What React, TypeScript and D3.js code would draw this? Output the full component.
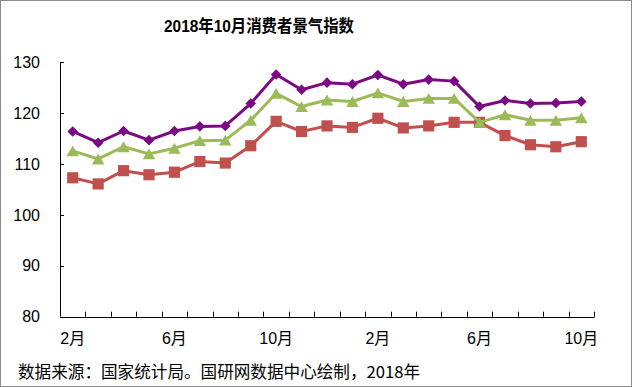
import React from "react";
import * as d3 from "d3";

const months = ["2月","3月","4月","5月","6月","7月","8月","9月","10月","11月","12月","1月","2月","3月","4月","5月","6月","7月","8月","9月","10月"];
const shownLabels = [0, 4, 8, 12, 16, 20];
const expectation = [116.4,114.2,116.5,114.7,116.5,117.4,117.5,121.9,127.6,124.6,126.0,125.7,127.5,125.7,126.6,126.3,121.3,122.5,121.9,122.0,122.3];
const confidence = [112.6,111.0,113.4,112.0,113.1,114.6,114.7,118.6,123.9,121.3,122.6,122.3,124.0,122.3,122.9,122.9,118.2,119.7,118.6,118.6,119.1];
const satisfaction = [107.3,106.1,108.7,107.9,108.4,110.5,110.2,113.6,118.4,116.4,117.5,117.2,119.0,117.1,117.5,118.2,118.2,115.6,113.8,113.4,114.4];
const yTicks = [80, 90, 100, 110, 120, 130];

const FONT = "'Liberation Sans', Arial, 'Noto Sans CJK SC', sans-serif";

const squareDiamond = {
  draw(ctx: any, size: number) {
    const r = Math.sqrt(size / 2);
    ctx.moveTo(0, -r);
    ctx.lineTo(r, 0);
    ctx.lineTo(0, r);
    ctx.lineTo(-r, 0);
    ctx.closePath();
  },
};
const boxTriangle = {
  draw(ctx: any, size: number) {
    const s = Math.sqrt((size * 4) / Math.sqrt(3));
    const h = (s * Math.sqrt(3)) / 2;
    ctx.moveTo(0, -h / 2);
    ctx.lineTo(s / 2, h / 2);
    ctx.lineTo(-s / 2, h / 2);
    ctx.closePath();
  },
};

export default function App() {
  const W = 632, H = 387;
  const x = d3.scaleBand<number>().domain(d3.range(months.length)).range([60, 594]);
  const y = d3.scaleLinear().domain([80, 130]).range([316.7, 62.3]);
  const cx = (i: number) => (x(i) as number) + x.bandwidth() / 2;
  const line = d3.line<number>().x((_, i) => cx(i)).y((d) => y(d));

  const diamond = d3.symbol().type(squareDiamond as any).size(56)() as string;
  const triangle = d3.symbol().type(boxTriangle as any).size(68)() as string;
  const square = d3.symbol().type(d3.symbolSquare).size(125)() as string;

  const series = [
    { data: satisfaction, color: "#C0504D", path: square },
    { data: confidence, color: "#9BBB59", path: triangle },
    { data: expectation, color: "#7B0A82", path: diamond },
  ];

  return (
    <svg width={W} height={H} style={{ position: "absolute", left: 0, top: 0, display: "block", background: "#fff" }} fontFamily={FONT}>
      <rect x={0.5} y={0.5} width={W - 1} height={H - 1} fill="#fff" stroke="#8c8c8c" strokeWidth={1} />
      <text x={164} y={32} fontSize={17} fontWeight="bold" fill="#000" textLength={190} lengthAdjust="spacingAndGlyphs">2018年10月消费者景气指数</text>

      {/* y axis */}
      <line x1={60.5} x2={60.5} y1={y(130)} y2={y(80)} stroke="#000" strokeWidth={1} />
      {yTicks.map((t) => (
        <g key={t}>
          <line x1={60} x2={64} y1={Math.round(y(t)) + 0.5} y2={Math.round(y(t)) + 0.5} stroke="#000" />
          <text x={40} y={y(t)} dy="0.35em" textAnchor="end" fontSize={16} fill="#000">{t}</text>
        </g>
      ))}

      {/* x axis */}
      <line x1={60} x2={594.5} y1={Math.round(y(80)) + 0.5} y2={Math.round(y(80)) + 0.5} stroke="#000" />
      {months.map((_, i) => {
        const bx = Math.round((x(i) as number) + x.bandwidth()) + 0.5;
        return <line key={i} x1={bx} x2={bx} y1={y(80)} y2={y(80) - 5} stroke="#000" />;
      })}
      {shownLabels.map((i) => (
        <text key={i} x={cx(i)} y={344} textAnchor="middle" fontSize={16} fill="#000">{months[i]}</text>
      ))}

      {series.map((s, k) => (
        <g key={k}>
          <path d={line(s.data) as string} fill="none" stroke={s.color} strokeWidth={3} strokeLinejoin="round" />
          {s.data.map((v, i) => (
            <path key={i} d={s.path} transform={`translate(${cx(i)},${y(v)})`} fill={s.color} />
          ))}
        </g>
      ))}

      <text x={18} y={378} fontSize={16.5} fill="#000" fontFamily="'Noto Sans CJK SC', sans-serif" textLength={402} lengthAdjust="spacingAndGlyphs">数据来源：国家统计局。国研网数据中心绘制，2018年</text>
    </svg>
  );
}
